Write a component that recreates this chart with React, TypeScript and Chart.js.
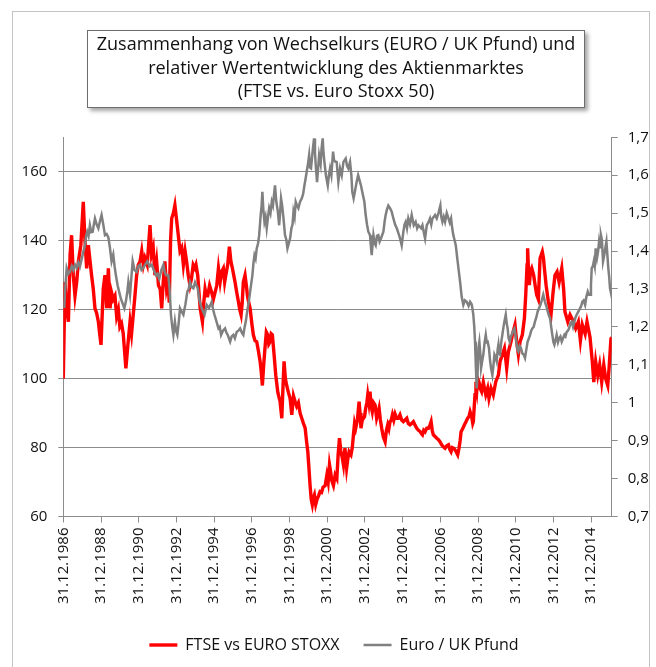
import React, { useEffect, useRef } from 'react';
import { Chart, registerables } from 'chart.js';

Chart.register(...registerables);

const titleLines = [
  'Zusammenhang von Wechselkurs (EURO / UK Pfund) und',
  'relativer Wertentwicklung des Aktienmarktes',
  '(FTSE vs. Euro Stoxx 50)',
];

const seriesNames = ['FTSE vs EURO STOXX', 'Euro / UK Pfund'];

// x = decimal year (1987.0 = 31.12.1986)
const ftseDates = [
  1987.0, 1987.09, 1987.18, 1987.27, 1987.36, 1987.44, 1987.53, 1987.62, 1987.71, 1987.8, 1987.93,
  1988.06, 1988.15, 1988.24, 1988.33, 1988.42, 1988.5, 1988.59, 1988.68, 1988.77, 1988.86, 1988.93,
  1989.0, 1989.06, 1989.12, 1989.21, 1989.3, 1989.39, 1989.48, 1989.56, 1989.65, 1989.74, 1989.83, 1989.92,
  1990.0, 1990.09, 1990.18, 1990.25, 1990.32, 1990.43, 1990.54, 1990.62, 1990.71, 1990.8, 1990.89, 1990.98,
  1991.07, 1991.16, 1991.25, 1991.33, 1991.45, 1991.6, 1991.68, 1991.77, 1991.86, 1991.95,
  1992.05, 1992.14, 1992.22, 1992.3, 1992.39, 1992.48, 1992.56, 1992.62, 1992.69, 1992.75, 1992.84, 1992.92,
  1993.01, 1993.1, 1993.19, 1993.28, 1993.37, 1993.46, 1993.54, 1993.63, 1993.72, 1993.8, 1993.89, 1993.98,
  1994.04, 1994.13, 1994.26, 1994.38, 1994.45, 1994.52, 1994.59, 1994.66, 1994.76, 1994.87, 1994.96,
  1995.05, 1995.14, 1995.23, 1995.32, 1995.4, 1995.49, 1995.56, 1995.62, 1995.72, 1995.81, 1995.89, 1995.97,
  1996.04, 1996.11, 1996.2, 1996.29, 1996.36, 1996.43, 1996.49, 1996.55, 1996.64, 1996.71, 1996.77, 1996.84, 1996.91,
  1997.0, 1997.08, 1997.17, 1997.26, 1997.35, 1997.44, 1997.5, 1997.56, 1997.63, 1997.7, 1997.77, 1997.84, 1997.9, 1997.97,
  1998.03, 1998.09, 1998.18, 1998.27, 1998.38, 1998.5, 1998.59, 1998.65, 1998.71, 1998.78, 1998.85, 1998.94,
  1999.03, 1999.12, 1999.21, 1999.3, 1999.38, 1999.47, 1999.56, 1999.65, 1999.74, 1999.83, 1999.9, 1999.97,
  2000.03, 2000.09, 2000.15, 2000.21, 2000.27, 2000.32, 2000.39, 2000.46, 2000.54, 2000.62, 2000.7, 2000.78, 2000.89, 2000.98,
  2001.05, 2001.12, 2001.18, 2001.24, 2001.33, 2001.42, 2001.51, 2001.58, 2001.65, 2001.72, 2001.8, 2001.86, 2001.94,
  2002.03, 2002.1, 2002.16, 2002.26, 2002.33, 2002.39, 2002.45, 2002.51, 2002.6, 2002.69, 2002.74, 2002.79, 2002.86, 2002.92, 2002.98,
  2003.04, 2003.1, 2003.15, 2003.21, 2003.27, 2003.33, 2003.39, 2003.46, 2003.54, 2003.62, 2003.69, 2003.75, 2003.82, 2003.89, 2003.98,
  2004.07, 2004.14, 2004.21, 2004.27, 2004.33, 2004.4, 2004.46, 2004.53, 2004.6, 2004.68, 2004.77, 2004.86, 2004.95,
  2005.04, 2005.13, 2005.22, 2005.3, 2005.39, 2005.48, 2005.57, 2005.66, 2005.75, 2005.84, 2005.92,
  2006.0, 2006.05, 2006.12, 2006.19, 2006.28, 2006.37, 2006.45, 2006.51, 2006.57, 2006.63, 2006.72, 2006.81, 2006.9, 2006.98,
  2007.07, 2007.16, 2007.25, 2007.34, 2007.43, 2007.5, 2007.57, 2007.64, 2007.72, 2007.82, 2007.92, 2007.99,
  2008.05, 2008.1, 2008.19, 2008.28, 2008.36, 2008.45, 2008.52, 2008.58, 2008.66, 2008.72, 2008.75, 2008.8, 2008.84, 2008.89, 2008.94, 2008.98,
  2009.05, 2009.11, 2009.19, 2009.28, 2009.35, 2009.41, 2009.51, 2009.58, 2009.69, 2009.81, 2009.94,
  2010.08, 2010.17, 2010.29, 2010.4, 2010.46, 2010.52, 2010.61, 2010.75, 2010.82, 2010.96,
  2011.05, 2011.14, 2011.23, 2011.35, 2011.46, 2011.53, 2011.6, 2011.63, 2011.68, 2011.72, 2011.78, 2011.85, 2011.95,
  2012.03, 2012.11, 2012.2, 2012.29, 2012.41, 2012.47, 2012.52, 2012.61, 2012.73, 2012.87, 2012.98,
  2013.08, 2013.19, 2013.3, 2013.44, 2013.54, 2013.61, 2013.76, 2013.88,
  2014.06, 2014.18, 2014.32, 2014.43, 2014.53, 2014.68, 2014.78, 2014.94,
  2015.06, 2015.14, 2015.24, 2015.35, 2015.45, 2015.56, 2015.67, 2015.77, 2015.88, 2015.95, 2016.05, 2016.09,
];

const ftseValues = [
  100, 128, 120, 116.5, 136, 141.6, 130, 124, 128, 134, 138.7,
  151.3, 140, 132, 138.7, 134, 130, 126, 120.4, 119, 116.5, 113,
  109.8, 118, 126, 130, 120.4, 132, 120.4, 125, 123, 124, 118, 120,
  115, 116, 113, 108, 103, 110, 116.5, 113, 118.5, 124, 130, 133,
  134, 137, 133, 135, 133, 144.5, 136, 138, 130, 134,
  127, 126, 120.4, 128, 134, 126, 128, 122, 140, 146.5, 148, 150.3,
  146, 141.6, 137, 138, 133, 137, 134, 130, 127, 129, 133, 132,
  133, 130, 120.4, 116.5, 122, 126, 124, 124, 127, 125, 123,
  125, 127, 132, 128, 131, 132, 128, 130, 133, 138.3, 134, 132,
  130, 128, 125, 122.3, 120, 118.5, 122, 128, 130, 127, 124, 122, 120.4,
  116, 112.7, 111, 110.7, 108, 105, 102, 98, 104, 109, 113.5, 112.7, 110, 110.7,
  113, 112.7, 107, 101, 96, 93.3, 88.5, 97, 105, 100, 98, 96,
  94.3, 89.5, 95, 93.3, 92, 93, 90, 88.5, 87, 85.6, 82, 78.8,
  74, 69, 65, 63.4, 65.5, 66.3, 63.5, 65, 66, 67.2, 67, 68.5, 69, 72,
  70, 75, 73, 70.5, 69, 72, 71, 78, 82.7, 79, 77, 75, 79.8,
  74, 77, 78.8, 77.9, 80, 83.7, 87, 85.6, 88, 93.3, 90, 85.6, 88, 88.5, 89,
  91.4, 93, 95.3, 93, 96.2, 92, 90.4, 93, 92.3, 88.5, 90, 91.4, 88, 85.6, 83,
  81.7, 85, 86.6, 85.5, 87.5, 88, 89.5, 88, 89.7, 88.5, 88.5, 89.5, 88,
  87.5, 88, 88.5, 87, 86.6, 87, 87.5, 86.5, 85.6, 85, 84.7,
  84, 83.7, 85, 84.6, 85.6, 85.6, 86.5, 87.5, 85, 83.7, 83.2, 82.7, 82.3, 81.7,
  80.8, 80.2, 79.8, 80.5, 80.8, 79.5, 78.8, 80, 79.8, 79, 77.9, 79.8,
  82, 84.6, 85.5, 86.6, 87.5, 88.5, 89, 90.4, 89, 87, 87.5, 92, 95.3, 99.1, 97, 100,
  99, 97.2, 96.2, 99, 97, 95.3, 97.2, 94.3, 97.2, 95.3, 99.1,
  101, 105, 107, 108.8, 106, 103, 107.8, 110.7, 112.7, 115.6,
  110.7, 107, 110.7, 112.7, 117.5, 124.3, 133, 137.8, 131, 127.1, 131, 132, 130,
  127, 124.3, 123, 134.9, 136.8, 135, 132, 127.1, 122.3, 118.5, 125,
  130, 131, 128, 132, 126, 119.4, 116.5, 118.5,
  116.5, 114.6, 116.5, 111, 115.6, 113, 116.5, 112,
  105, 99, 105, 101, 104, 99, 104, 100, 98, 103, 111.6, 112,
];

const gbpDates = [
  1987.0, 1987.05, 1987.1, 1987.18, 1987.27, 1987.35, 1987.45, 1987.53, 1987.62, 1987.71, 1987.8, 1987.88, 1987.98,
  1988.07, 1988.15, 1988.21, 1988.27, 1988.34, 1988.41, 1988.48, 1988.56, 1988.62, 1988.68, 1988.77, 1988.86, 1988.95,
  1989.03, 1989.12, 1989.21, 1989.3, 1989.39, 1989.47, 1989.56, 1989.65, 1989.72, 1989.79, 1989.88, 1989.97,
  1990.05, 1990.13, 1990.24, 1990.33, 1990.4, 1990.45, 1990.54, 1990.61, 1990.68, 1990.78, 1990.89, 1990.98,
  1991.07, 1991.15, 1991.24, 1991.35, 1991.46, 1991.58, 1991.69, 1991.8, 1991.92,
  1992.0, 1992.09, 1992.2, 1992.31, 1992.38, 1992.45, 1992.57, 1992.64, 1992.71, 1992.78, 1992.84, 1992.92, 1992.98,
  1993.05, 1993.12, 1993.19, 1993.28, 1993.37, 1993.48, 1993.58, 1993.65, 1993.72, 1993.81, 1993.9, 1993.99,
  1994.06, 1994.13, 1994.22, 1994.34, 1994.42, 1994.49, 1994.61, 1994.73, 1994.87, 1994.95,
  1995.02, 1995.12, 1995.23, 1995.3, 1995.37, 1995.47, 1995.58, 1995.65, 1995.72, 1995.85, 1995.93,
  1996.02, 1996.1, 1996.2, 1996.29, 1996.38, 1996.47, 1996.55, 1996.62, 1996.68, 1996.78, 1996.85, 1996.91,
  1997.03, 1997.09, 1997.14, 1997.2, 1997.26, 1997.33, 1997.39, 1997.47, 1997.52, 1997.56, 1997.61, 1997.67, 1997.73, 1997.79, 1997.86, 1997.92, 1997.99,
  1998.06, 1998.12, 1998.18, 1998.23, 1998.3, 1998.38, 1998.45, 1998.5, 1998.55, 1998.61, 1998.68, 1998.76, 1998.83, 1998.89, 1998.96,
  1999.03, 1999.1, 1999.16, 1999.21, 1999.27, 1999.33, 1999.4, 1999.47, 1999.56, 1999.65, 1999.72, 1999.79, 1999.85, 1999.91, 1999.98,
  2000.04, 2000.09, 2000.14, 2000.22, 2000.3, 2000.35, 2000.39, 2000.46, 2000.52, 2000.57, 2000.65, 2000.7, 2000.76, 2000.8, 2000.85, 2000.93,
  2001.03, 2001.09, 2001.15, 2001.22, 2001.31, 2001.36, 2001.42, 2001.5, 2001.59, 2001.68, 2001.77, 2001.86, 2001.98,
  2002.05, 2002.12, 2002.21, 2002.28, 2002.33, 2002.4, 2002.48, 2002.56, 2002.64, 2002.69, 2002.79, 2002.86, 2002.97,
  2003.04, 2003.11, 2003.18, 2003.27, 2003.32, 2003.36, 2003.45, 2003.52, 2003.57, 2003.64, 2003.71, 2003.78, 2003.85, 2003.98,
  2004.05, 2004.1, 2004.17, 2004.24, 2004.33, 2004.42, 2004.51, 2004.6, 2004.69, 2004.81, 2004.88, 2004.95,
  2005.04, 2005.1, 2005.16, 2005.23, 2005.3, 2005.39, 2005.48, 2005.59, 2005.69, 2005.77, 2005.84, 2005.98,
  2006.05, 2006.12, 2006.19, 2006.28, 2006.36, 2006.45, 2006.52, 2006.58, 2006.65, 2006.72, 2006.81, 2006.9,
  2007.0, 2007.05, 2007.11, 2007.18, 2007.25, 2007.34, 2007.43, 2007.5, 2007.57, 2007.63, 2007.69, 2007.75, 2007.82, 2007.9, 2007.96,
  2008.05, 2008.13, 2008.22, 2008.3, 2008.4, 2008.5, 2008.58, 2008.66, 2008.7, 2008.75, 2008.8, 2008.84, 2008.88, 2008.93, 2008.97,
  2009.02, 2009.07, 2009.12, 2009.16, 2009.22, 2009.28, 2009.35, 2009.41, 2009.46, 2009.51, 2009.58, 2009.64, 2009.69, 2009.76, 2009.82, 2009.87, 2009.93, 2009.99,
  2010.04, 2010.08, 2010.12, 2010.17, 2010.23, 2010.29, 2010.35, 2010.4, 2010.47, 2010.52, 2010.57, 2010.62, 2010.68, 2010.74, 2010.79, 2010.86, 2010.93, 2010.98,
  2011.03, 2011.09, 2011.14, 2011.21, 2011.28, 2011.35, 2011.42, 2011.49, 2011.56, 2011.63, 2011.7, 2011.76, 2011.82, 2011.88, 2011.95,
  2012.02, 2012.09, 2012.16, 2012.24, 2012.31, 2012.38, 2012.46, 2012.55, 2012.62, 2012.7, 2012.76, 2012.82, 2012.88, 2012.94,
  2013.0, 2013.05, 2013.11, 2013.17, 2013.24, 2013.3, 2013.37, 2013.44, 2013.51, 2013.58, 2013.64, 2013.7, 2013.77, 2013.83, 2013.9, 2013.97,
  2014.04, 2014.11, 2014.17, 2014.23, 2014.32, 2014.41, 2014.47, 2014.53, 2014.6, 2014.68, 2014.75, 2014.82, 2014.88, 2014.94, 2014.99,
  2015.03, 2015.09, 2015.14, 2015.19, 2015.24, 2015.31, 2015.37, 2015.42, 2015.47, 2015.52, 2015.57, 2015.63, 2015.7, 2015.76, 2015.81, 2015.86, 2015.91, 2015.96,
  2016.0, 2016.05, 2016.09,
];

const gbpValues = [
  1.27, 1.25, 1.3, 1.355, 1.34, 1.345, 1.36, 1.35, 1.364, 1.355, 1.37, 1.359, 1.38,
  1.4, 1.415, 1.44, 1.451, 1.44, 1.468, 1.45, 1.451, 1.47, 1.486, 1.47, 1.46, 1.48,
  1.495, 1.47, 1.442, 1.445, 1.436, 1.41, 1.373, 1.391, 1.36, 1.336, 1.31, 1.291,
  1.275, 1.264, 1.249, 1.27, 1.295, 1.318, 1.285, 1.33, 1.373, 1.35, 1.345, 1.36,
  1.364, 1.35, 1.355, 1.365, 1.373, 1.36, 1.364, 1.35, 1.336,
  1.34, 1.327, 1.35, 1.364, 1.345, 1.336, 1.336, 1.3, 1.232, 1.2, 1.179, 1.214, 1.19,
  1.179, 1.21, 1.249, 1.24, 1.232, 1.26, 1.293, 1.3, 1.318, 1.305, 1.302, 1.318,
  1.31, 1.302, 1.27, 1.249, 1.24, 1.232, 1.258, 1.25, 1.266, 1.245,
  1.232, 1.215, 1.196, 1.2, 1.179, 1.19, 1.196, 1.185, 1.179, 1.161, 1.175,
  1.179, 1.17, 1.187, 1.19, 1.196, 1.185, 1.179, 1.2, 1.214, 1.249, 1.27, 1.293,
  1.336, 1.37, 1.389, 1.38, 1.407, 1.42, 1.442, 1.495, 1.52, 1.556, 1.51, 1.477, 1.49, 1.46, 1.49, 1.513, 1.5,
  1.53, 1.52, 1.55, 1.573, 1.53, 1.504, 1.468, 1.5, 1.539, 1.52, 1.486, 1.442, 1.43, 1.407, 1.42,
  1.433, 1.46, 1.47, 1.504, 1.49, 1.53, 1.52, 1.513, 1.53, 1.539, 1.55, 1.573, 1.59, 1.609, 1.63,
  1.653, 1.62, 1.618, 1.66, 1.697, 1.66, 1.627, 1.582, 1.62, 1.653, 1.63, 1.67, 1.697, 1.66, 1.635, 1.6,
  1.573, 1.6, 1.618, 1.6, 1.662, 1.64, 1.636, 1.635, 1.582, 1.618, 1.6, 1.635, 1.644,
  1.625, 1.618, 1.635, 1.6, 1.556, 1.539, 1.56, 1.582, 1.6, 1.591, 1.573, 1.556, 1.53,
  1.495, 1.47, 1.451, 1.442, 1.41, 1.389, 1.442, 1.42, 1.415, 1.44, 1.442, 1.425, 1.433, 1.451,
  1.48, 1.495, 1.51, 1.52, 1.513, 1.504, 1.486, 1.47, 1.46, 1.442, 1.43, 1.415,
  1.451, 1.47, 1.477, 1.46, 1.486, 1.47, 1.495, 1.468, 1.477, 1.46, 1.468, 1.46,
  1.468, 1.45, 1.433, 1.468, 1.475, 1.486, 1.47, 1.486, 1.49, 1.495, 1.486, 1.5,
  1.52, 1.49, 1.477, 1.49, 1.477, 1.5, 1.486, 1.475, 1.486, 1.46, 1.442, 1.43, 1.415, 1.38, 1.355,
  1.318, 1.28, 1.258, 1.27, 1.266, 1.255, 1.266, 1.26, 1.249, 1.232, 1.2, 1.161, 1.1, 1.038, 1.07,
  1.144, 1.161, 1.13, 1.091, 1.11, 1.127, 1.16, 1.179, 1.16, 1.161, 1.144, 1.11, 1.091, 1.073, 1.1, 1.127, 1.12, 1.109,
  1.14, 1.153, 1.13, 1.127, 1.16, 1.179, 1.2, 1.214, 1.232, 1.21, 1.196, 1.17, 1.161, 1.175, 1.179, 1.19, 1.196, 1.18,
  1.161, 1.14, 1.135, 1.15, 1.144, 1.13, 1.127, 1.118, 1.14, 1.161, 1.17, 1.179, 1.19, 1.196, 1.2,
  1.214, 1.225, 1.24, 1.25, 1.258, 1.27, 1.285, 1.266, 1.255, 1.24, 1.23, 1.223, 1.2, 1.179,
  1.16, 1.153, 1.165, 1.179, 1.16, 1.17, 1.175, 1.161, 1.17, 1.179, 1.175, 1.187, 1.19, 1.196, 1.21, 1.214,
  1.2, 1.214, 1.225, 1.232, 1.24, 1.249, 1.255, 1.266, 1.27, 1.258, 1.28, 1.293, 1.285, 1.285, 1.31,
  1.355, 1.36, 1.373, 1.36, 1.407, 1.382, 1.4, 1.425, 1.41, 1.442, 1.43, 1.373, 1.391, 1.41, 1.425, 1.39, 1.355, 1.33,
  1.302, 1.29, 1.285,
];

const xTickYears = [1987, 1989, 1991, 1993, 1995, 1997, 1999, 2001, 2003, 2005, 2007, 2009, 2011, 2013, 2015];
const leftTicks = [60, 80, 100, 120, 140, 160];
const rightTicks = [0.7, 0.8, 0.9, 1.0, 1.1, 1.2, 1.3, 1.4, 1.5, 1.6, 1.7];

const AXIS_GRAY = '#8c8c8c';
const TEXT = '#111111';
const FONT = 'Open Sans';

export default function App() {
  const canvasRef = useRef<HTMLCanvasElement | null>(null);

  useEffect(() => {
    const canvas = canvasRef.current;
    if (!canvas) return;
    const chart = new Chart(canvas, {
      type: 'line',
      data: {
        datasets: [
          {
            label: seriesNames[0],
            data: ftseDates.map((x, i) => ({ x, y: ftseValues[i] })),
            borderColor: '#ff0000',
            backgroundColor: '#ff0000',
            borderWidth: 3.4,
            pointRadius: 0,
            tension: 0,
            yAxisID: 'y',
            order: 1,
          },
          {
            label: seriesNames[1],
            data: gbpDates.map((x, i) => ({ x, y: gbpValues[i] })),
            borderColor: '#808080',
            backgroundColor: '#808080',
            borderWidth: 2.5,
            pointRadius: 0,
            tension: 0,
            yAxisID: 'y2',
            order: 0,
          },
        ],
      },
      options: {
        animation: false,
        responsive: false,
        maintainAspectRatio: false,
        layout: { padding: { left: 12, right: 0, top: 137.3, bottom: 4 } },
        plugins: {
          legend: {
            position: 'bottom',
            labels: {
              usePointStyle: true,
              pointStyle: 'line',
              pointStyleWidth: 28,
              padding: 24,
              color: TEXT,
              font: { family: FONT, size: 16 },
              sort: (a: any, b: any) => a.datasetIndex - b.datasetIndex,
            },
          },
          tooltip: { enabled: false },
        },
        scales: {
          x: {
            type: 'linear',
            min: 1987,
            max: 2016.09,
            afterBuildTicks: (s: any) => {
              s.ticks = xTickYears.map((v) => ({ value: v }));
            },
            afterFit: (s: any) => {
              s.height = 96.5;
            },
            grid: { drawOnChartArea: false, drawTicks: true, tickLength: 6, color: AXIS_GRAY },
            border: { color: AXIS_GRAY },
            ticks: {
              autoSkip: false,
              maxRotation: 90,
              minRotation: 90,
              padding: 5,
              color: TEXT,
              font: { family: FONT, size: 15 },
              callback: (v: any) => '31.12.' + (Math.round(Number(v)) - 1),
            },
          },
          y: {
            position: 'left',
            min: 60,
            max: 170,
            afterBuildTicks: (s: any) => {
              s.ticks = leftTicks.map((v) => ({ value: v }));
            },
            afterFit: (s: any) => {
              s.width = 51.3;
            },
            grid: { color: AXIS_GRAY, tickLength: 5 },
            border: { color: AXIS_GRAY },
            ticks: {
              padding: 11,
              color: TEXT,
              font: { family: FONT, size: 15 },
              callback: (v: any) => String(v),
            },
          },
          y2: {
            position: 'right',
            min: 0.7,
            max: 1.7,
            afterBuildTicks: (s: any) => {
              s.ticks = rightTicks.map((v) => ({ value: v }));
            },
            afterFit: (s: any) => {
              s.width = 44.3;
            },
            grid: { drawOnChartArea: false, tickLength: 6, color: AXIS_GRAY },
            border: { color: AXIS_GRAY },
            ticks: {
              padding: 10,
              color: TEXT,
              font: { family: FONT, size: 15 },
              callback: (v: any) => {
                const n = Number(v);
                return Math.abs(n - 1) < 1e-9 ? '1' : n.toFixed(1).replace('.', ',');
              },
            },
          },
        },
      },
    });
    return () => chart.destroy();
  }, []);

  return (
    <div
      style={{
        position: 'fixed',
        left: 0,
        top: 0,
        width: 656,
        height: 667,
        background: '#ffffff',
        overflow: 'hidden',
      }}
    >
      <div
        style={{
          position: 'absolute',
          left: 12,
          top: 11,
          width: 638,
          height: 700,
          border: '1px solid #c4c4c4',
          boxSizing: 'border-box',
        }}
      />
      <canvas
        ref={canvasRef}
        width={656}
        height={667}
        style={{ position: 'absolute', left: 0, top: 0, width: 656, height: 667 }}
      />
      <div
        style={{
          position: 'absolute',
          left: 87,
          top: 30,
          width: 498,
          height: 78,
          boxSizing: 'border-box',
          border: '1px solid #6e6e6e',
          background: '#ffffff',
          boxShadow: '3px 3px 4px rgba(0,0,0,0.35)',
          fontFamily: FONT,
          fontSize: 18,
          lineHeight: '23.5px',
          textAlign: 'center',
          color: TEXT,
          paddingTop: 1,
          whiteSpace: 'nowrap',
        }}
      >
        {titleLines.map((t, i) => (
          <div key={i}>{t}</div>
        ))}
      </div>
    </div>
  );
}
